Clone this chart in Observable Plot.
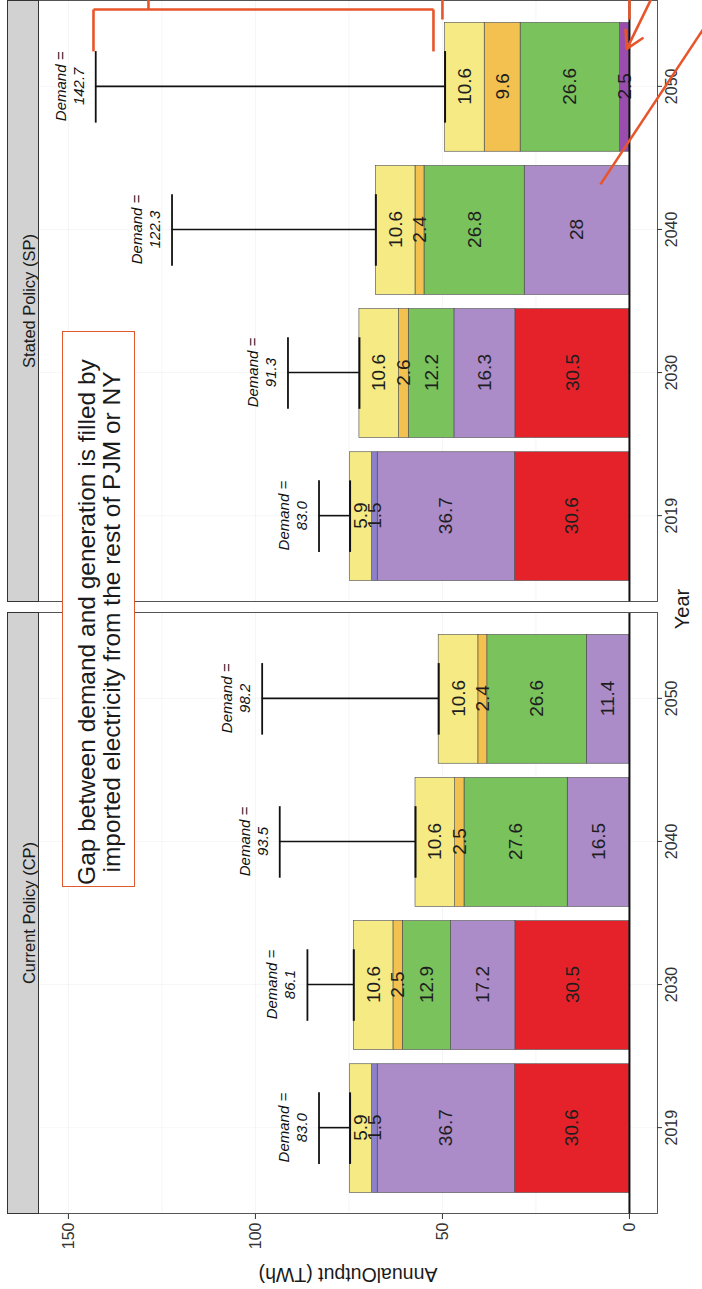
<!DOCTYPE html>
<html>
<head>
<meta charset="utf-8">
<script src="https://cdn.jsdelivr.net/npm/d3@7"></script>
<script src="https://cdn.jsdelivr.net/npm/@observablehq/plot@0.6"></script>
<style>
  html, body { margin: 0; padding: 0; background: #ffffff; overflow: hidden; }
  #page { position: relative; width: 702px; height: 1289px; overflow: hidden; background: #fff; }
  #rot { position: absolute; left: 0; top: 0; width: 1289px; height: 702px;
         transform-origin: 0 0; transform: translate(0px, 1289px) rotate(-90deg);
         font-family: "Liberation Sans", Arial, Helvetica, sans-serif; }
  #rot svg { overflow: visible; }
  #note { position: absolute; left: 402px; top: 62px; width: 556px; height: 73px;
          border: 1.5px solid #e2572c; background: #fff; color: #1a1a1a;
          font-size: 24.5px; line-height: 25px; text-align: center; white-space: nowrap;
          display: flex; align-items: center; justify-content: center;
          box-sizing: border-box; padding: 0 27px 0 1px; }
  #xtitle { position: absolute; left: 630px; width: 100px; top: 670px; text-align: center;
            font-size: 20px; color: #1a1a1a; line-height: 24px; }
</style>
</head>
<body>
<div id="page"><div id="rot"></div></div>
<script>
// ---- data ----
const panels = ["CP", "SP"];
const panelTitles = ["Current Policy (CP)", "Stated Policy (SP)"];
const years = ["2019", "2030", "2040", "2050"];
const sources = ["Nuclear", "Natural Gas", "Coal", "Other", "Offshore Wind", "Other Renewables", "Solar"];
const sourceColors = ["#e5222a", "#ab8bc8", "#8b80ca", "#9a4dae", "#79c25c", "#f3c14f", "#f6ea84"];

const cpNuclear = [30.6, 30.5, 0, 0];
const cpGas     = [36.7, 17.2, 16.5, 11.4];
const cpCoal    = [1.5, 0, 0, 0];
const cpOther   = [0, 0, 0, 0];
const cpWind    = [0, 12.9, 27.6, 26.6];
const cpRenew   = [0, 2.5, 2.5, 2.4];
const cpSolar   = [5.9, 10.6, 10.6, 10.6];
const cpDemand  = [83.0, 86.1, 93.5, 98.2];

const spNuclear = [30.6, 30.5, 0, 0];
const spGas     = [36.7, 16.3, 28, 0];
const spCoal    = [1.5, 0, 0, 0];
const spOther   = [0, 0, 0, 2.5];
const spWind    = [0, 12.2, 26.8, 26.6];
const spRenew   = [0, 2.6, 2.4, 9.6];
const spSolar   = [5.9, 10.6, 10.6, 10.6];
const spDemand  = [83.0, 91.3, 122.3, 142.7];

const yTicks = [0, 50, 100, 150];
const yGrid = [0, 25, 50, 75, 100, 125, 150];

// hand-drawn orange annotation (x = year position index, y = TWh), Stated Policy panel
const annoX1 = [4.537, 4.244, 4.244, 4.537, 4.467, 4.467, 4.45];
const annoY1 = [52.4, 143.3, 52.4, 128.6, 50.0, 0.0, -21];
const annoX2 = [4.537, 4.537, 4.537, 4.62, 4.62, 4.62, 3.315];
const annoY2 = [143.3, 143.3, 52.4, 128.6, 50.0, 0.0, 7.75];
const arrowX1 = [4.62], arrowY1 = [-6], arrowX2 = [4.262], arrowY2 = [0.7];

// ---- build tables ----
const seriesByPanel = {
  CP: [cpNuclear, cpGas, cpCoal, cpOther, cpWind, cpRenew, cpSolar],
  SP: [spNuclear, spGas, spCoal, spOther, spWind, spRenew, spSolar]
};
const demandByPanel = { CP: cpDemand, SP: spDemand };

const segs = [];
const demandRows = [];
for (const p of panels) {
  years.forEach((yr, j) => {
    let acc = 0;
    sources.forEach((s, k) => {
      const v = seriesByPanel[p][k][j];
      if (v > 0) {
        segs.push({panel: p, i: j + 1, source: s, value: v, y1: acc, y2: acc + v});
        acc += v;
      }
    });
    demandRows.push({panel: p, i: j + 1, total: acc, demand: demandByPanel[p][j]});
  });
}
const strips = panels.map((p, k) => ({panel: p, label: panelTitles[k]}));
const annoLinks = annoX1.map((x, k) => ({panel: "SP", x1: x, y1: annoY1[k], x2: annoX2[k], y2: annoY2[k]}));
const annoArrows = arrowX1.map((x, k) => ({panel: "SP", x1: x, y1: arrowY1[k], x2: arrowX2[k], y2: arrowY2[k]}));

const chart = Plot.plot({
  width: 1289,
  height: 702,
  marginLeft: 75,
  marginRight: 1,
  marginTop: 38,
  marginBottom: 45,
  style: {fontFamily: "'Liberation Sans', Arial, Helvetica, sans-serif", background: "#fff", color: "#1a1a1a", overflow: "visible"},
  fx: {domain: panels, paddingInner: 0.018, paddingOuter: 0, axis: null, label: null},
  x: {domain: [0.4, 4.6]},
  y: {domain: [-7.5, 158]},
  color: {domain: sources, range: sourceColors},
  marks: [
    Plot.gridY({ticks: yGrid, stroke: "#000", strokeOpacity: 0.045}),
    Plot.gridX({ticks: [1, 2, 3, 4], stroke: "#000", strokeOpacity: 0.035}),
    Plot.rect(segs, {fx: "panel", x1: d => d.i - 0.45, x2: d => d.i + 0.45, y1: "y1", y2: "y2",
      fill: "source", stroke: "#4a4a4a", strokeWidth: 0.6}),
    Plot.text(segs, {fx: "panel", x: "i", y: d => (d.y1 + d.y2) / 2, text: d => String(d.value),
      fontSize: 19, fill: "#1e1e1e"}),
    Plot.ruleX(demandRows, {fx: "panel", x: "i", y1: "total", y2: "demand", stroke: "#111", strokeWidth: 1.6}),
    Plot.ruleY(demandRows, {fx: "panel", y: "demand", x1: d => d.i - 0.25, x2: d => d.i + 0.25, stroke: "#111", strokeWidth: 1.8}),
    Plot.ruleY(demandRows, {fx: "panel", y: "total", x1: d => d.i - 0.25, x2: d => d.i + 0.25, stroke: "#111", strokeWidth: 2}),
    Plot.text(demandRows, {fx: "panel", x: "i", y: "demand", text: d => `Demand =\n${d.demand.toFixed(1)}`,
      fontStyle: "italic", fontSize: 15, lineHeight: 1.2, lineAnchor: "bottom", dy: -12, fill: "#111"}),
    Plot.ruleY([0], {stroke: "#111", strokeWidth: 2}),
    Plot.frame({stroke: "#444", strokeWidth: 0.9}),
    Plot.frame({fill: "#d2d2d2", stroke: "#333", strokeWidth: 1, insetTop: -31, insetBottom: 619}),
    Plot.text(strips, {fx: "panel", text: "label", frameAnchor: "top", dy: -15.5, fontSize: 16.5, fill: "#1a1a1a"}),
    Plot.axisY({ticks: yTicks, tickSize: 5, tickPadding: 4, fontSize: 16, label: null, stroke: "#333", color: "#333"}),
    Plot.axisX({ticks: [1, 2, 3, 4], tickFormat: d => years[d - 1], tickSize: 5, tickPadding: 3, fontSize: 16, label: null, stroke: "#333", color: "#333"}),
    Plot.text([{panel: "CP"}], {fx: "panel", frameAnchor: "left", textAnchor: "middle", dx: -61, rotate: -90,
      text: () => "AnnualOutput (TWh)", fontSize: 19.5, fill: "#1a1a1a"}),
    Plot.link(annoLinks, {fx: "panel", x1: "x1", y1: "y1", x2: "x2", y2: "y2", stroke: "#e8552a", strokeWidth: 2.6}),
    Plot.arrow(annoArrows, {fx: "panel", x1: "x1", y1: "y1", x2: "x2", y2: "y2", stroke: "#e8552a", strokeWidth: 2.6, headLength: 14})
  ]
});

const rot = document.getElementById("rot");
rot.appendChild(chart);
const note = document.createElement("div");
note.id = "note";
note.innerHTML = "<div>Gap between demand and generation is filled by<br>imported electricity from the rest of PJM or NY</div>";
rot.appendChild(note);
const xt = document.createElement("div");
xt.id = "xtitle";
xt.textContent = "Year";
rot.appendChild(xt);
</script>
</body>
</html>
